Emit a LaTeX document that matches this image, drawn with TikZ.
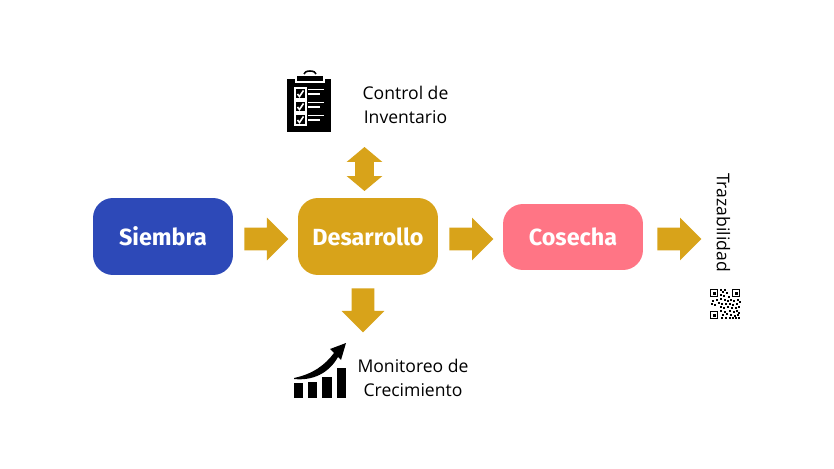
\documentclass[tikz,border=0pt]{standalone}
\usepackage{fontspec}
\setmainfont{Open Sans}
\newfontfamily\boxfont{Fira Sans}
\usetikzlibrary{shapes.arrows}
\definecolor{siembrablue}{HTML}{2D49B8}
\definecolor{goldfill}{HTML}{D8A31A}
\definecolor{cosechapink}{HTML}{FF7585}
\tikzset{
  stage/.style={rounded corners=0.4cm, minimum width=2.8cm, text=white,
    font=\boxfont\fontsize{13.3}{16}\selectfont\bfseries, inner sep=0},
  flow/.style={single arrow, fill=goldfill, inner xsep=0, inner ysep=0.22cm, anchor=tail,
    minimum height=0.88cm, single arrow head extend=0.2cm, rotate=#1},
  flow/.default=0,
  label/.style={font=\fontsize{10}{13.6}\selectfont, align=center, inner sep=0}
}
\begin{document}
\begin{tikzpicture}[x=0.02cm,y=-0.02cm]
    \useasboundingbox (0,0) rectangle (834,469);
    \fill[white] (0,0) rectangle (834,469);
    % stages
    \node[stage, fill=siembrablue, minimum height=1.54cm] (siembra) at (163,236.5) {Siembra};
    \node[stage, fill=goldfill, minimum height=1.54cm] (desarrollo) at (368,236.5) {Desarrollo};
    \node[stage, fill=cosechapink, minimum height=1.32cm] (cosecha) at (573,237) {Cosecha};
    % block arrows
    \node[flow] (arrowa) at (244,239) {};
    \node[flow] (arrowb) at (449,239) {};
    \node[flow] (arrowc) at (657,239) {};
    \node[flow=270] (arrowd) at (363,288) {};
    \node[double arrow, fill=goldfill, inner xsep=0, inner ysep=0.18cm, minimum height=0.88cm,
      double arrow head extend=0.17cm, double arrow tip angle=100, rotate=90] (arrowe) at (364.5,169) {};
    % labels
    \node[label] (control) at (405.5,104.5) {Control de\\Inventario};
    \node[label] (monitoreo) at (413,377.5) {Monitoreo de\\Crecimiento};
    \node[label, rotate=270] (traza) at (723.5,222.5) {Trazabilidad};
    % clipboard icon
    \fill[black] (287,79) rectangle (331,132);
    \fill[white] (295,78) rectangle (325,83);
    \fill[black] (297,76) rectangle (323,81);
    \draw[black, line width=0.9pt] (304,74) arc (180:360:6 and 3);
    \foreach \y in {88,101,114} {
      \draw[white, line width=0.8pt] (295,\y) rectangle (306,\y+11);
      \draw[white, line width=0.9pt] (297.5,\y+6) -- (299.5,\y+8.5) -- (303.5,\y+2.5);
      \draw[white, line width=0.8pt] (308,\y+1.5) -- (324,\y+1.5);
      \draw[white, line width=0.8pt] (308,\y+6) -- (320,\y+6);
    }
    % chart icon
    \fill[black] (294,383) rectangle (303,398);
    \fill[black] (308,382) rectangle (317,398);
    \fill[black] (322,377) rectangle (332,398);
    \fill[black] (337,368) rectangle (346,398);
    \fill[black] (294,378) .. controls (313,374) and (325,365) .. (334,353)
      -- (330,349) -- (346,343) -- (341,360) -- (338,357)
      .. controls (329,373) and (313,381) .. (294,379) -- cycle;
    % qr code
    \foreach \x/\y in {710/289,732/289,710/311} {
      \draw[black, line width=0.8pt] (\x+0.5,\y+0.5) rectangle (\x+7.5,\y+7.5);
      \fill[black] (\x+2.5,\y+2.5) rectangle (\x+5.5,\y+5.5);
    }
    \foreach \x/\y in {720/289,722/291,724/289,726/292,720/294,723/295,728/296,
      720/298,712/300,716/299,724/299,727/300,730/299,733/300,737/299,739/301,
      711/303,714/304,718/302,721/303,725/303,729/303,732/304,736/303,
      720/306,723/307,727/306,731/307,735/307,738/306,
      720/310,724/311,722/314,726/313,729/310,733/311,736/310,738/312,
      730/314,734/315,737/314,721/317,725/317,729/317,732/317,735/317,738/317} {
      \fill[black] (\x,\y) rectangle (\x+2,\y+2);
    }
\end{tikzpicture}
\end{document}
